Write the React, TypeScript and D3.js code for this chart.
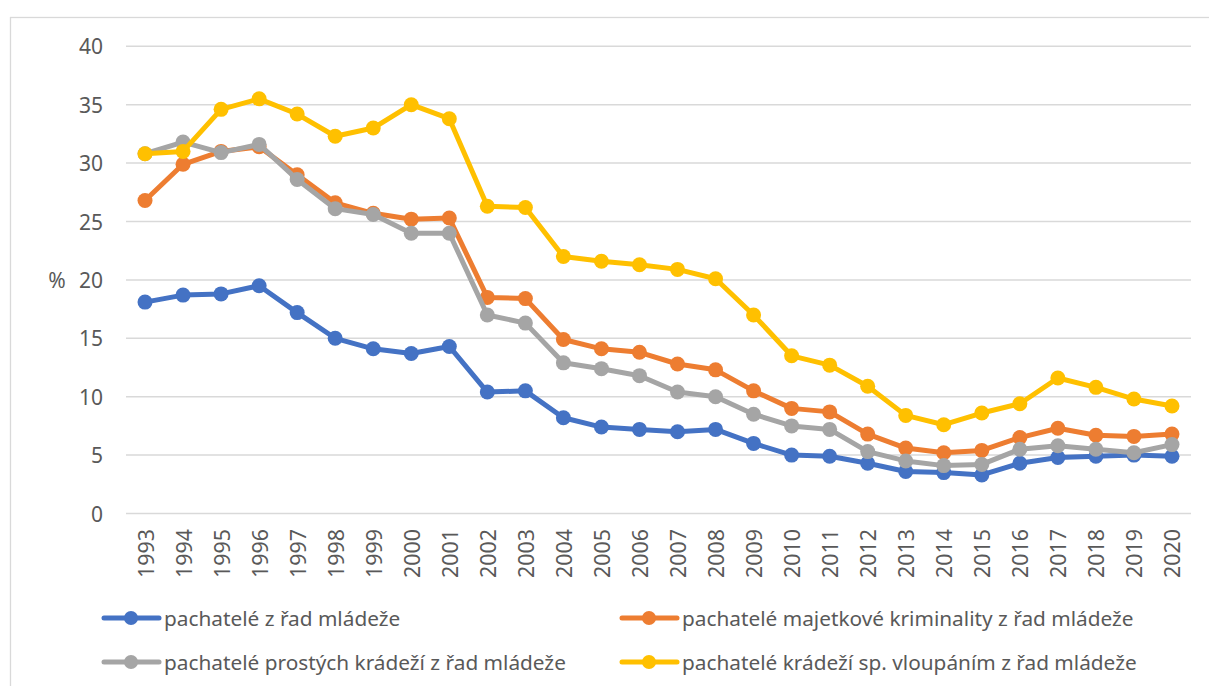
import React from "react";
import * as d3 from "d3";

const years = [1993,1994,1995,1996,1997,1998,1999,2000,2001,2002,2003,2004,2005,2006,2007,2008,2009,2010,2011,2012,2013,2014,2015,2016,2017,2018,2019,2020].map(String);

const blue = [18.1,18.7,18.8,19.5,17.2,15.0,14.1,13.7,14.3,10.4,10.5,8.2,7.4,7.2,7.0,7.2,6.0,5.0,4.9,4.3,3.6,3.5,3.3,4.3,4.8,4.9,5.0,4.9];
const orange = [26.8,29.9,31.0,31.4,29.0,26.6,25.7,25.2,25.3,18.5,18.4,14.9,14.1,13.8,12.8,12.3,10.5,9.0,8.7,6.8,5.6,5.2,5.4,6.5,7.3,6.7,6.6,6.8];
const gray = [30.8,31.8,30.9,31.6,28.6,26.1,25.6,24.0,24.0,17.0,16.3,12.9,12.4,11.8,10.4,10.0,8.5,7.5,7.2,5.3,4.5,4.1,4.2,5.5,5.8,5.5,5.2,5.9];
const yellow = [30.8,31.0,34.6,35.5,34.2,32.3,33.0,35.0,33.8,26.3,26.2,22.0,21.6,21.3,20.9,20.1,17.0,13.5,12.7,10.9,8.4,7.6,8.6,9.4,11.6,10.8,9.8,9.2];

const yTicks = [0,5,10,15,20,25,30,35,40];

const seriesNames = [
  "pachatelé z řad mládeže",
  "pachatelé majetkové kriminality z řad mládeže",
  "pachatelé prostých krádeží z řad mládeže",
  "pachatelé krádeží sp. vloupáním z řad mládeže",
];
const seriesColors = ["#4472C4", "#ED7D31", "#A5A5A5", "#FFC000"];
const seriesValues = [blue, orange, gray, yellow];

const drawOrder = [0, 1, 2, 3];

export default function App() {
  const W = 1209, H = 686;
  const left = 126, right = 1191, top = 46.3, bottom = 513.5;
  const x = d3.scaleBand<string>().domain(years).range([left, right]);
  const xc = (yr: string) => (x(yr) as number) + x.bandwidth() / 2;
  const y = d3.scaleLinear().domain([0, 40]).range([bottom, top]);
  const font = "'Noto Sans', 'Open Sans', sans-serif";
  const textColor = "#595959";

  const legendPos = [
    { lx: 104, ly: 618 },
    { lx: 622, ly: 618 },
    { lx: 104, ly: 662 },
    { lx: 622, ly: 662 },
  ];

  return (
    <svg width={W} height={H} style={{ position: "absolute", left: 0, top: 0, display: "block", background: "#fff" }}>
      <rect x={10.5} y={17.5} width={1220} height={700} fill="#fff" stroke="#d9d9d9" strokeWidth={1.3} />
      {yTicks.map((t) => (
        <g key={t}>
          <line x1={left} x2={right} y1={y(t)} y2={y(t)} stroke="#d9d9d9" strokeWidth={1.5} />
          <text x={103} y={y(t)} textAnchor="end" dominantBaseline="central" fontFamily={font} fontSize={21} fill={textColor}>{t}</text>
        </g>
      ))}
      <text x={57} y={y(20)} textAnchor="middle" dominantBaseline="central" fontFamily={font} fontSize={21} fill={textColor}>%</text>
      {years.map((yr) => (
        <text key={yr} transform={`translate(${xc(yr)},${529}) rotate(-90)`} textAnchor="end" dominantBaseline="central" fontFamily={font} fontSize={21.4} fill={textColor}>{yr}</text>
      ))}
      {drawOrder.map((si) => {
        const vals = seriesValues[si];
        const line = d3.line<number>().x((_, i) => xc(years[i])).y((d) => y(d));
        return (
          <g key={si}>
            <path d={line(vals) || ""} fill="none" stroke={seriesColors[si]} strokeWidth={5} strokeLinejoin="round" strokeLinecap="round" />
            {vals.map((v, i) => (
              <circle key={i} cx={xc(years[i])} cy={y(v)} r={7.5} fill={seriesColors[si]} />
            ))}
          </g>
        );
      })}
      {seriesNames.map((name, si) => {
        const p = legendPos[si];
        return (
          <g key={name}>
            <line x1={p.lx} x2={p.lx + 55} y1={p.ly} y2={p.ly} stroke={seriesColors[si]} strokeWidth={5} strokeLinecap="round" />
            <circle cx={p.lx + 27} cy={p.ly} r={7} fill={seriesColors[si]} />
            <text x={p.lx + 60} y={p.ly} dominantBaseline="central" fontFamily={font} fontSize={20.8} fill={textColor}>{name}</text>
          </g>
        );
      })}
    </svg>
  );
}
